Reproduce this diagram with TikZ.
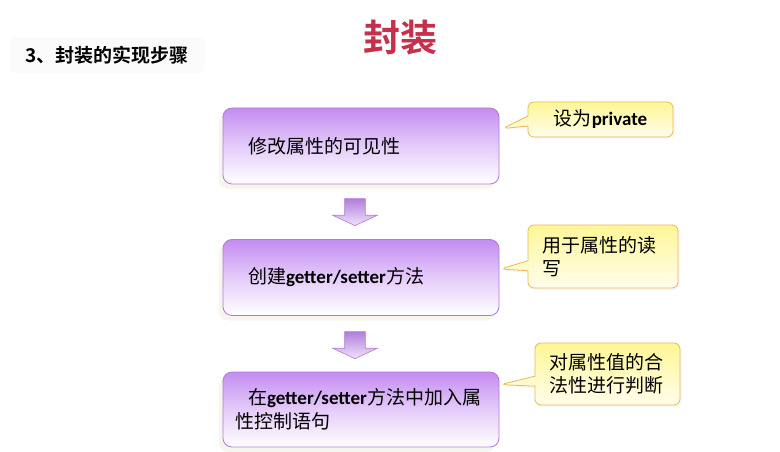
\documentclass[tikz,border=0pt]{standalone}
\usepackage{fontspec}
\setmainfont{Noto Sans CJK SC}[BoldFont={Noto Sans CJK SC Bold}]
\newfontfamily\latb{Carlito}
\usetikzlibrary{positioning,calc,shapes.arrows,shapes.callouts,shadows}

\definecolor{boxtop}{RGB}{196,140,242}
\definecolor{boxline}{RGB}{178,122,214}
\definecolor{notetop}{RGB}{255,246,150}
\definecolor{noteline}{RGB}{234,184,84}
\definecolor{titlered}{RGB}{198,48,74}
\newcommand{\gs}[1]{{\latb\bfseries #1}}

\begin{document}
\begin{tikzpicture}[x=1pt,y=-1pt,
  stepbox/.style={draw=boxline,line width=0.8pt,rounded corners=9pt,
    top color=boxtop,bottom color=white,middle color=boxtop!45,
    minimum height=76pt,text width=252pt,inner xsep=12pt,align=left,
    font=\fontsize{19}{23.5}\selectfont,
    drop shadow={shadow xshift=-4pt,shadow yshift=-5pt,opacity=0.07,fill=olive}},
  downarrow/.style={single arrow,rotate=-90,draw=boxline,line width=0.6pt,
    top color=boxtop!90!black,bottom color=boxtop!25,
    minimum height=27pt,minimum width=44pt,inner xsep=1pt,inner ysep=10pt,
    single arrow head extend=12pt,single arrow tip angle=130},
  note/.style={rectangle callout,draw=noteline,line width=0.8pt,rounded corners=6pt,
    top color=notetop,bottom color=notetop!18,callout pointer width=10pt,
    font=\fontsize{19}{23.5}\selectfont,align=left,inner xsep=14pt,
    drop shadow={shadow xshift=2pt,shadow yshift=-2pt,opacity=0.06}}]
\useasboundingbox (0,0) rectangle (780,452);

\node[fill=black!1.5,rounded corners=6pt,minimum width=195pt,minimum height=36pt,
  font=\fontsize{19}{23}\selectfont\bfseries] (heading) at (107,55) {3、封装的实现步骤};
\node[text=titlered,font=\fontsize{37}{40}\selectfont\bfseries] (title) at (400,38) {封装};

\node[stepbox] (step1) at (361,146) {\hspace*{13pt}修改属性的可见性};
\node[stepbox] (step2) at (361,277.5) {\hspace*{13pt}创建\gs{getter/setter}方法};
\node[stepbox,minimum height=75pt] (step3) at (361,409.5)
  {\hspace*{13pt}在\gs{getter/setter}方法中加入属\\性控制语句};

\node[downarrow] (arr1) at ($(step1.south)!0.5!(step2.north)+(-6,-2)$) {};
\node[downarrow] (arr2) at ($(step2.south)!0.5!(step3.north)+(-6,-1)$) {};

\coordinate (tip1) at ($(step1.north east)+(3,21)$);
\coordinate (tip2) at ($(step2.north east)+(1,30)$);
\coordinate (tip3) at ($(step3.north east)+(1,13)$);

\node[note,minimum width=145pt,minimum height=35pt,align=center,
  callout absolute pointer={(tip1)}] (note1) at (600.5,119.5) {设为\gs{private}};
\node[note,minimum height=63pt,text width=122pt,
  callout absolute pointer={(tip2)}] (note2) at (603,256.5) {用于属性的读\\写};
\node[note,minimum height=62pt,text width=117pt,
  callout absolute pointer={(tip3)}] (note3) at (607.5,374) {对属性值的合\\法性进行判断};

\end{tikzpicture}
\end{document}
